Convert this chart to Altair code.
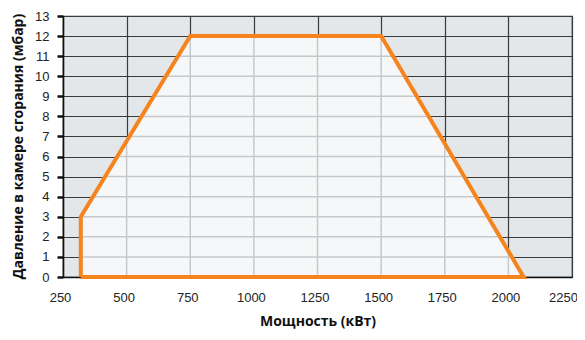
import altair as alt
import pandas as pd

# Polygon of the working field (power kW, pressure mbar)
poly_x = [320, 320, 750, 1500, 2060, 320]
poly_y = [0, 3, 12, 12, 0, 0]

x_ticks = [250, 500, 750, 1000, 1250, 1500, 1750, 2000, 2250]
y_ticks = list(range(0, 14))

ORANGE = "#f5841f"
OUT_FILL = "#e4e7e9"
IN_FILL = "#f6f7f8"

outline = pd.DataFrame({"x": poly_x, "y": poly_y, "o": list(range(len(poly_x)))})
area_df = pd.DataFrame({"x": poly_x[:5], "y": poly_y[:5]})


def left_x(y):
    # left boundary of polygon at height y
    if y <= poly_y[1]:
        return poly_x[1]
    return poly_x[1] + (y - poly_y[1]) / (poly_y[2] - poly_y[1]) * (poly_x[2] - poly_x[1])


def right_x(y):
    return poly_x[4] - (y - poly_y[4]) / (poly_y[3] - poly_y[4]) * (poly_x[4] - poly_x[3])


def top_y(x):
    if x <= poly_x[2]:
        return poly_y[1] + (x - poly_x[1]) / (poly_x[2] - poly_x[1]) * (poly_y[2] - poly_y[1])
    if x <= poly_x[3]:
        return poly_y[2]
    return poly_y[3] * (poly_x[4] - x) / (poly_x[4] - poly_x[3])


hgrid = pd.DataFrame(
    [{"x": left_x(y), "x2": right_x(y), "y": y} for y in y_ticks if 0 < y < 12]
)
vgrid = pd.DataFrame(
    [{"x": x, "y": 0, "y2": top_y(x)} for x in x_ticks if poly_x[0] < x < poly_x[4]]
)

xscale = alt.Scale(domain=[250, 2250], nice=False, zero=False)
yscale = alt.Scale(domain=[0, 13], nice=False)

x_axis = alt.Axis(
    values=x_ticks, format="d", title="Мощность (кВт)", grid=True,
    gridColor="#3a3a3a", gridWidth=1.2, tickSize=0, labelPadding=14,
    labelFlush=False, labelOverlap=False, labelBound=False,
    labelOffset={"condition": {"test": "datum.value == 2250", "value": -9}, "value": -3},
    domainColor="#111", domainWidth=1.5, titlePadding=10,
)
y_axis = alt.Axis(
    values=y_ticks, format="d", title="Давление в камере сгорания (мбар)",
    grid=True, labelOverlap=False, labelBound=False, labelFlush=False,
    gridColor="#3a3a3a", gridWidth=1.2, tickSize=6, tickWidth=2.5,
    tickColor="#111", labelPadding=8, domainColor="#111",
    domainWidth=1.5, titleX=-45, titleY=130, titleAngle=270,
    titleAlign="center", titleBaseline="middle",
)

X = alt.X("x:Q", scale=xscale, axis=x_axis)
Y = alt.Y("y:Q", scale=yscale, axis=y_axis)

fill = alt.Chart(area_df).mark_area(color=IN_FILL, opacity=1, orient="vertical").encode(
    x=X, y=Y
)

hlines = alt.Chart(hgrid).mark_rule(color="#c6c8ca", strokeWidth=1.5).encode(
    x=X, x2="x2:Q", y=Y
)
vlines = alt.Chart(vgrid).mark_rule(color="#c6c8ca", strokeWidth=1.5).encode(
    x=X, y=Y, y2="y2:Q"
)

line = alt.Chart(outline).mark_line(color=ORANGE, strokeWidth=4, strokeJoin="miter").encode(
    x=X, y=Y, order="o:Q"
)

chart = (
    alt.layer(fill, hlines, vlines, line)
    .properties(
        width=509, height=261, autosize="none",
        padding={"left": 55, "top": 8, "right": 5, "bottom": 55},
    )
    .configure_view(fill=OUT_FILL, stroke="#3a3a3a", strokeWidth=1.2)
    .configure_axis(
        labelFont="Liberation Sans", labelFontSize=13, labelColor="#222",
        titleFont="Open Sans", titleFontSize=14, titleFontWeight="bold",
        titleColor="#111",
    )
)

chart.save("out.html", embed_options={"renderer": "svg", "actions": False})
